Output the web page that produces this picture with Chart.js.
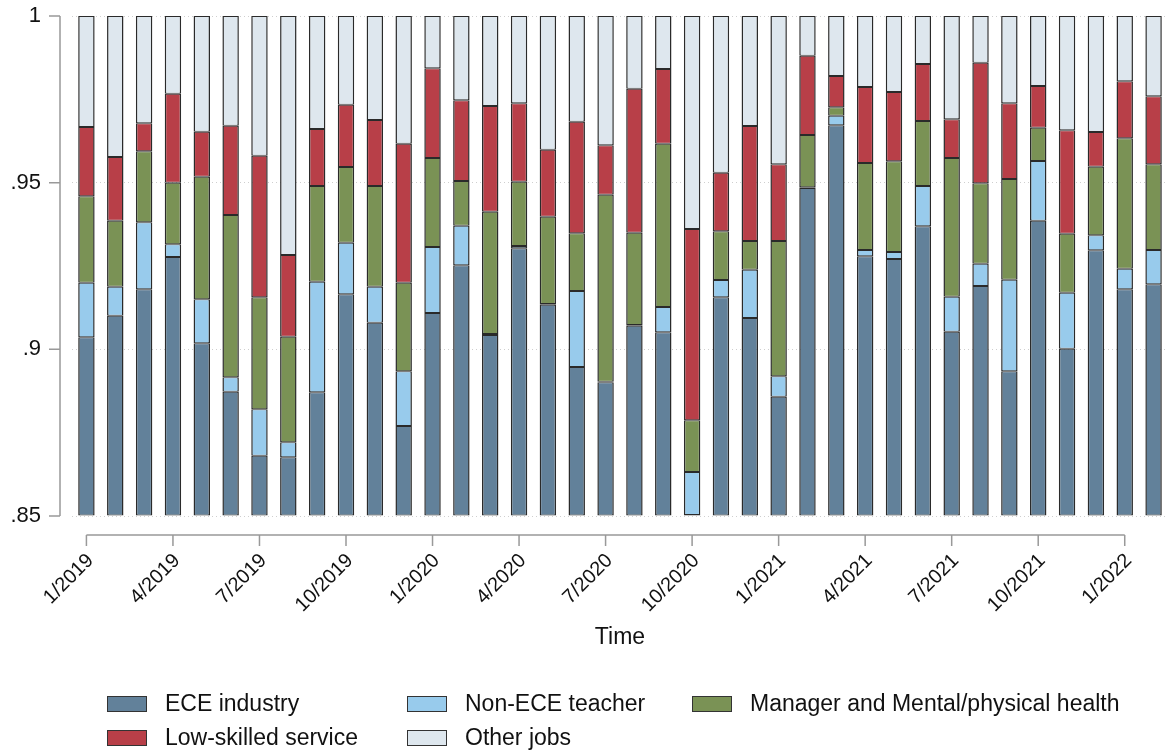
<!DOCTYPE html>
<html>
<head>
<meta charset="utf-8">
<script src="https://cdn.jsdelivr.net/npm/chart.js@4.4.1/dist/chart.umd.min.js"></script>
<style>
  body { margin: 0; background: #fff; font-family: "Liberation Sans", Arial, sans-serif; }
  #wrap { position: relative; width: 1174px; height: 750px; }
  .item { position: absolute; display: flex; align-items: center; font-size: 23px; color: #111; white-space: nowrap; line-height: 1; }
  .swatch { width: 40px; height: 16px; box-sizing: border-box; border: 1.5px solid #333; margin-right: 18px; }
</style>
</head>
<body>
<div id="wrap">
  <canvas id="chart" width="1174" height="750"></canvas>
  <div id="legend"></div>
</div>
<script>
// Months shown on the x axis
const months = [
  "1/2019", "2/2019", "3/2019", "4/2019", "5/2019", "6/2019", "7/2019", "8/2019", "9/2019", "10/2019", "11/2019", "12/2019",
  "1/2020", "2/2020", "3/2020", "4/2020", "5/2020", "6/2020", "7/2020", "8/2020", "9/2020", "10/2020", "11/2020", "12/2020",
  "1/2021", "2/2021", "3/2021", "4/2021", "5/2021", "6/2021", "7/2021", "8/2021", "9/2021", "10/2021", "11/2021", "12/2021",
  "1/2022", "2/2022"
];

// Share of each job group
const eceIndustry = [
  0.9036, 0.9101, 0.9180, 0.9277, 0.9018, 0.8873, 0.8681, 0.8676, 0.8871, 0.9165, 0.9080, 0.8770,
  0.9109, 0.9252, 0.9043, 0.9303, 0.9134, 0.8947, 0.8901, 0.9071, 0.9051, 0.8503, 0.9156, 0.9094,
  0.8858, 0.9484, 0.9672, 0.9279, 0.9271, 0.9369, 0.9053, 0.9190, 0.8934, 0.9386, 0.9002, 0.9297,
  0.9180, 0.9195
];
const nonEceTeacher = [
  0.0164, 0.0087, 0.0201, 0.0038, 0.0132, 0.0043, 0.0139, 0.0045, 0.0332, 0.0155, 0.0108, 0.0164,
  0.0198, 0.0119, 0.0003, 0.0007, 0.0002, 0.0228, 0.0002, 0.0002, 0.0076, 0.0129, 0.0052, 0.0145,
  0.0061, 0.0002, 0.0029, 0.0019, 0.0021, 0.0121, 0.0105, 0.0067, 0.0275, 0.0179, 0.0168, 0.0045,
  0.0062, 0.0103
];
const managerHealth = [
  0.0259, 0.0198, 0.0213, 0.0185, 0.0368, 0.0487, 0.0336, 0.0317, 0.0287, 0.0227, 0.0302, 0.0266,
  0.0267, 0.0134, 0.0367, 0.0193, 0.0262, 0.0173, 0.0561, 0.0277, 0.0490, 0.0155, 0.0146, 0.0086,
  0.0406, 0.0157, 0.0025, 0.0261, 0.0272, 0.0195, 0.0416, 0.0241, 0.0302, 0.0100, 0.0177, 0.0206,
  0.0391, 0.0257
];
const lowSkilled = [
  0.0208, 0.0191, 0.0084, 0.0267, 0.0135, 0.0268, 0.0425, 0.0245, 0.0171, 0.0187, 0.0198, 0.0417,
  0.0269, 0.0242, 0.0317, 0.0235, 0.0201, 0.0335, 0.0148, 0.0432, 0.0224, 0.0574, 0.0176, 0.0345,
  0.0230, 0.0238, 0.0094, 0.0228, 0.0208, 0.0171, 0.0116, 0.0362, 0.0227, 0.0125, 0.0310, 0.0104,
  0.0171, 0.0204
];
const otherJobs = [
  0.0333, 0.0423, 0.0322, 0.0233, 0.0347, 0.0329, 0.0419, 0.0717, 0.0339, 0.0266, 0.0312, 0.0383,
  0.0157, 0.0253, 0.0270, 0.0262, 0.0401, 0.0317, 0.0388, 0.0218, 0.0159, 0.0639, 0.0470, 0.0330,
  0.0445, 0.0119, 0.0180, 0.0213, 0.0228, 0.0144, 0.0310, 0.0140, 0.0262, 0.0210, 0.0343, 0.0348,
  0.0196, 0.0241
];

// Y axis ticks
const yTicks = [0.85, 0.9, 0.95, 1];
const yMin = 0.85;
const yMax = 1;

const series = [
  { label: "ECE industry", data: eceIndustry, color: "#62819a" },
  { label: "Non-ECE teacher", data: nonEceTeacher, color: "#98cbec" },
  { label: "Manager and Mental/physical health", data: managerHealth, color: "#7a9255" },
  { label: "Low-skilled service", data: lowSkilled, color: "#b83f48" },
  { label: "Other jobs", data: otherJobs, color: "#dee7ee" }
];

function fmtTick(v) {
  var s = String(Math.round(v * 100) / 100);
  return s.replace(/^0\./, ".");
}

// Stata-style axes: y axis set off to the left, x axis spanning the labelled months
const axisLines = {
  id: "axisLines",
  afterDraw(chart) {
    const ctx = chart.ctx;
    const xs = chart.scales.x;
    const ys = chart.scales.y;
    const area = chart.chartArea;
    ctx.save();
    ctx.strokeStyle = "#999999";
    ctx.lineWidth = 1.5;
    ctx.beginPath();
    const ax = area.left - 12;
    ctx.moveTo(ax, ys.getPixelForValue(yMax));
    ctx.lineTo(ax, ys.getPixelForValue(yMin));
    yTicks.forEach(function (v) {
      const py = ys.getPixelForValue(v);
      ctx.moveTo(ax - 11, py);
      ctx.lineTo(ax, py);
    });
    const ay = area.bottom + 19;
    const labelled = [];
    months.forEach(function (m, i) {
      if (i % 3 === 0) labelled.push(i);
    });
    ctx.moveTo(xs.getPixelForValue(labelled[0]), ay);
    ctx.lineTo(xs.getPixelForValue(labelled[labelled.length - 1]), ay);
    labelled.forEach(function (i) {
      const px = xs.getPixelForValue(i);
      ctx.moveTo(px, ay);
      ctx.lineTo(px, ay + 11);
    });
    ctx.stroke();
    ctx.restore();
  }
};

Chart.defaults.font.family = '"Liberation Sans", Arial, sans-serif';
Chart.defaults.color = "#111";

const ctx = document.getElementById("chart").getContext("2d");
new Chart(ctx, {
  type: "bar",
  data: {
    labels: months,
    datasets: series.map(function (s, i) {
      const ds = {
        label: s.label,
        data: s.data,
        backgroundColor: s.color,
        borderColor: "#2a2a2a",
        borderWidth: { top: 1, bottom: 1, left: 1.5, right: 1.5 },
        borderSkipped: false,
        barPercentage: 0.57,
        categoryPercentage: 1
      };
      if (i === 0) ds.base = yMin;
      return ds;
    })
  },
  options: {
    responsive: false,
    animation: false,
    layout: { padding: { left: 0, right: 6, top: 16, bottom: 99 } },
    plugins: {
      legend: { display: false },
      tooltip: { enabled: false }
    },
    scales: {
      x: {
        stacked: true,
        grid: { display: false },
        border: { display: false },
        afterFit: function (scale) {
          scale.height = 135;
          scale.paddingLeft = 0;
          scale.paddingRight = 0;
        },
        ticks: {
          autoSkip: false,
          minRotation: 45,
          maxRotation: 45,
          padding: 25,
          labelOffset: 4,
          font: { size: 20 },
          callback: function (v, i) {
            return i % 3 === 0 ? months[i] : "";
          }
        },
        title: {
          display: true,
          text: "Time",
          font: { size: 23 },
          padding: { top: 0, bottom: 0 }
        }
      },
      y: {
        stacked: true,
        min: yMin,
        max: yMax,
        afterBuildTicks: function (scale) {
          scale.ticks = yTicks.map(function (v) {
            return { value: v };
          });
        },
        afterFit: function (scale) {
          scale.width = 72;
          scale.paddingTop = 0;
          scale.paddingBottom = 0;
        },
        grid: { color: "#cfcfcf", lineWidth: 1, drawTicks: false },
        border: { display: false, dash: [1, 3] },
        ticks: {
          padding: 31,
          font: { size: 22 },
          callback: function (v) {
            return fmtTick(v);
          }
        }
      }
    }
  },
  plugins: [axisLines]
});

// Legend in three columns, as in the original
const legendPos = [
  { left: 107, top: 692 },
  { left: 407, top: 692 },
  { left: 692, top: 692 },
  { left: 107, top: 726 },
  { left: 407, top: 726 }
];
const legend = document.getElementById("legend");
series.forEach(function (s, i) {
  const item = document.createElement("div");
  item.className = "item";
  item.style.left = legendPos[i].left + "px";
  item.style.top = legendPos[i].top + "px";
  item.innerHTML = '<span class="swatch" style="background:' + s.color + '"></span><span>' + s.label + "</span>";
  legend.appendChild(item);
});
</script>
</body>
</html>
